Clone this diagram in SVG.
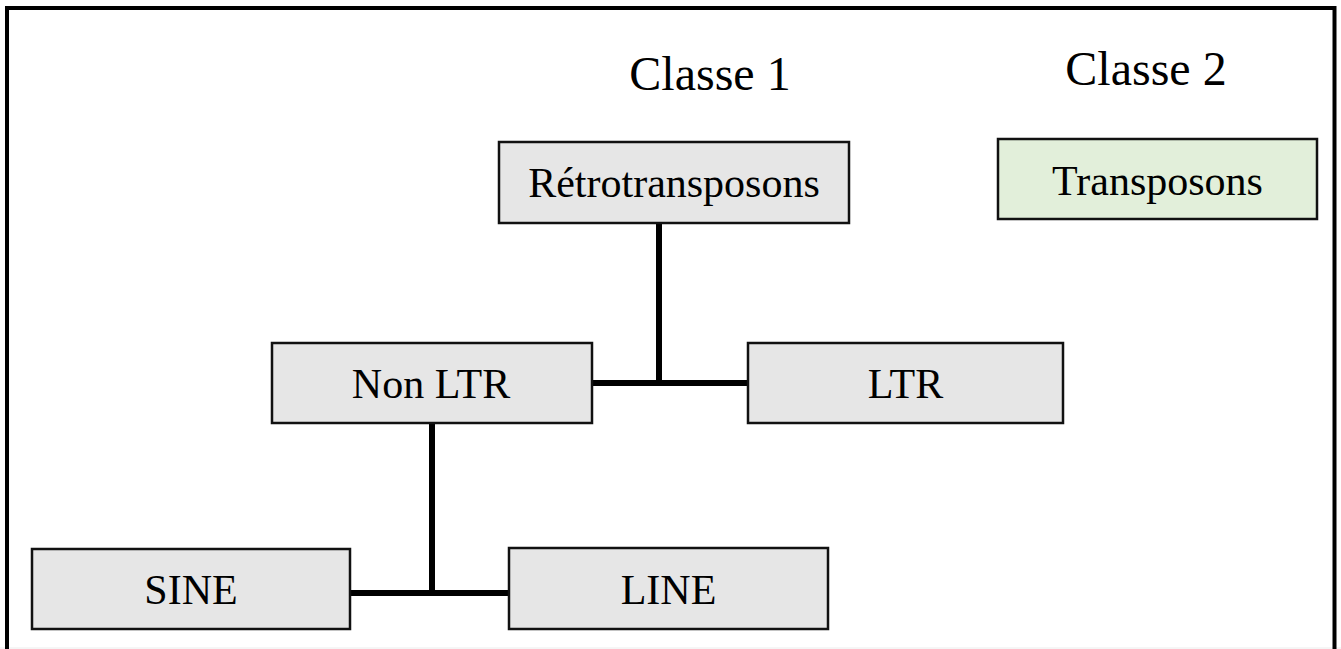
<svg xmlns="http://www.w3.org/2000/svg" width="1341" height="649" viewBox="0 0 1341 649">
<style>
.box{fill:#e6e6e6;stroke:#111;stroke-width:2.5}
.green{fill:#e2efda;stroke:#111;stroke-width:2.5}
.lbl{font-family:"Liberation Serif","Times New Roman",serif;font-size:42px;fill:#000;text-anchor:middle}
.title{font-family:"Liberation Serif","Times New Roman",serif;font-size:48px;fill:#000;text-anchor:middle}
.conn{stroke:#000;stroke-width:6;fill:none}
</style>
<rect x="0" y="0" width="1341" height="649" fill="#fff"/>
<line x1="0" y1="648" x2="1341" y2="648" stroke="#ececec" stroke-width="1"/>
<rect x="7" y="8" width="1327.5" height="700" fill="none" stroke="#000" stroke-width="4"/>
<text class="title" x="710" y="90">Classe 1</text>
<text class="title" x="1146" y="85">Classe 2</text>
<g id="connectors">
<path class="conn" d="M659 223 V383 M592 383 H748"/>
<path class="conn" d="M432 423 V593 M350 593 H509"/>
</g>
<g id="retro"><rect class="box" x="499" y="142" width="350" height="81"/><text class="lbl" x="674" y="197">Rétrotransposons</text></g>
<g id="transposons"><rect class="green" x="998" y="139" width="319" height="80"/><text class="lbl" x="1157.5" y="195">Transposons</text></g>
<g id="nonltr"><rect class="box" x="272" y="343" width="320" height="80"/><text class="lbl" x="431" y="398">Non LTR</text></g>
<g id="ltr"><rect class="box" x="748" y="343" width="315" height="80"/><text class="lbl" x="905.5" y="398">LTR</text></g>
<g id="sine"><rect class="box" x="32" y="549" width="318" height="80"/><text class="lbl" x="191" y="604">SINE</text></g>
<g id="line"><rect class="box" x="509" y="548" width="319" height="81"/><text class="lbl" x="668.5" y="604">LINE</text></g>
</svg>
